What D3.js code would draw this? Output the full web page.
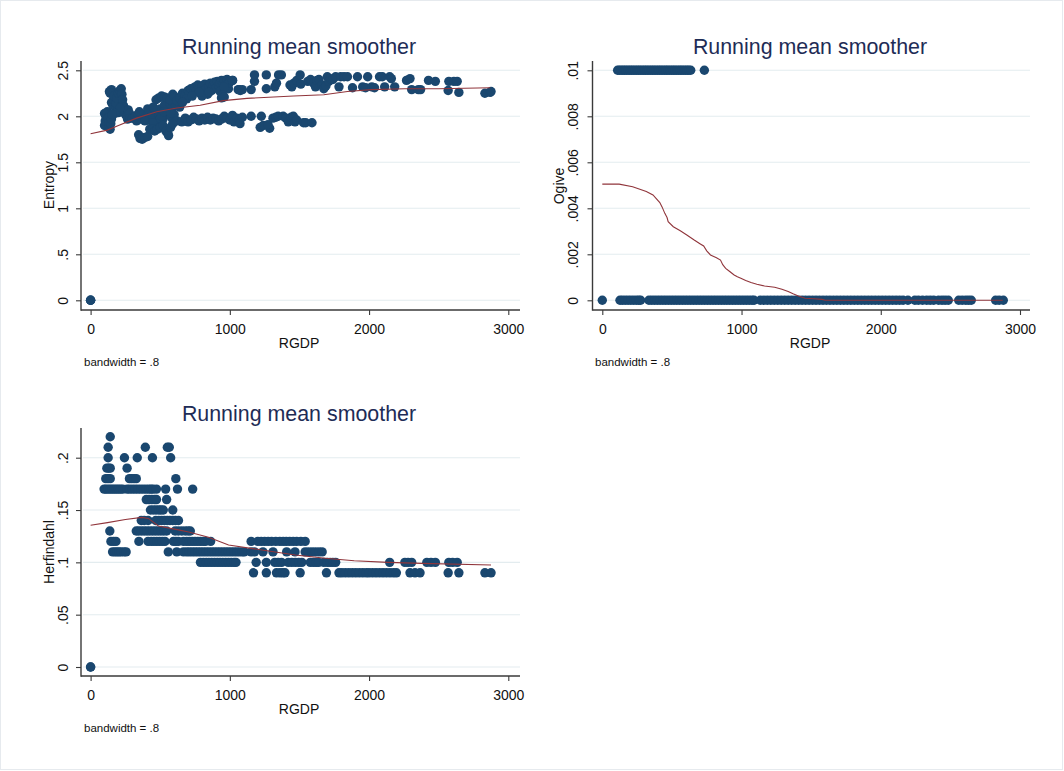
<!DOCTYPE html>
<html>
<head>
<meta charset="utf-8">
<script src="https://cdn.jsdelivr.net/npm/d3@7/dist/d3.min.js"></script>
<style>
  html, body { margin: 0; padding: 0; background: #fff; }
  svg { display: block; font-family: "Liberation Sans", Arial, sans-serif; }
</style>
</head>
<body>
<svg id="chart" width="1064" height="771"></svg>
<script>
// ---------------- DATA ----------------
const titleText = "Running mean smoother";
const xLabel = "RGDP";
const noteText = "bandwidth = .8";
const xTicks = [0, 1000, 2000, 3000];
const entropyTicks = [0, 0.5, 1, 1.5, 2, 2.5];
const ogiveTicks = [0, 0.002, 0.004, 0.006, 0.008, 0.01];
const herfTicks = [0, 0.05, 0.1, 0.15, 0.2];

// Entropy vs RGDP (x, y)
const entropyPoints = [
  [0,0],[0,0],[0,0],
  [100,1.90],[105,1.95],[110,2.00],[115,2.03],[120,2.05],[100,2.03],[125,1.98],[130,1.93],[135,1.88],[140,1.86],[145,1.92],[150,1.97],
  [135,2.27],[150,2.29],[140,2.25],[150,2.15],[160,2.12],[165,2.18],[170,2.22],[180,2.08],[185,2.14],[190,2.20],[200,2.25],[210,2.28],
  [220,2.30],[225,2.24],[230,2.18],[235,2.12],[240,2.10],[245,2.05],[250,2.02],[260,2.00],[265,1.97],[270,2.07],[280,2.03],[285,1.98],
  [200,2.04],[210,2.09],[175,2.03],[155,2.02],
  [300,1.98],[320,2.00],[340,2.02],[360,1.97],[380,2.00],[400,2.03],[420,1.96],[440,2.05],[460,1.99],[480,2.02],[500,2.08],[520,1.97],
  [540,2.03],[560,2.06],[580,1.99],[600,2.02],[620,1.95],[640,2.10],[410,2.08],[450,2.10],[470,1.95],[490,1.96],[530,2.12],[570,2.14],
  [590,2.10],[610,2.12],[350,2.05],[330,1.95],[430,1.98],[510,2.00],[390,1.95],[445,1.93],[525,2.05],[575,2.04],
  [345,1.80],[355,1.76],[370,1.75],[390,1.77],[410,1.78],[425,1.86],[445,1.86],[460,1.84],[480,1.86],[500,1.88],[520,1.90],[540,1.84],
  [555,1.81],[560,1.79],[575,1.88],[590,1.92],
  [470,2.18],[490,2.20],[510,2.22],[530,2.21],[550,2.20],[570,2.18],[590,2.24],[600,2.22],[620,2.17],[640,2.20],[660,2.25],[680,2.23],
  [700,2.28],[710,2.25],[720,2.30],[740,2.26],[750,2.32],[760,2.28],[770,2.34],[780,2.30],[790,2.25],[800,2.33],[810,2.28],[820,2.35],
  [830,2.30],[840,2.24],[850,2.32],[860,2.36],[870,2.28],[880,2.34],[890,2.37],[900,2.31],[910,2.38],[920,2.33],[930,2.36],[940,2.39],
  [950,2.35],[960,2.39],[970,2.32],[980,2.40],[990,2.37],[1000,2.38],[1020,2.39],[940,2.20],[950,2.23],[930,2.27],[990,2.30],[1060,2.29],
  [1075,2.28],[800,2.22],[850,2.26],[780,2.26],[690,2.19],[730,2.22],[660,2.15],
  [655,1.94],[680,1.98],[700,1.94],[720,1.96],[740,1.99],[760,1.97],[780,1.95],[800,1.98],[820,1.96],[840,1.99],[860,1.96],[880,1.98],
  [900,1.97],[920,1.95],[940,1.97],[960,2.00],[980,1.98],[1000,1.96],[1019,2.01],[1030,1.94],[1050,1.98],[1068,1.96],[1073,1.92],[1090,1.99],
  [1153,2.00],[1226,2.00],[1218,1.88],[1240,1.90],[1286,1.87],[1274,1.91],[1310,1.98],[1330,1.99],[1347,2.00],[1383,2.00],[1403,1.98],
  [1420,1.94],[1440,1.99],[1456,2.00],[1468,1.94],[1480,1.96],[1529,1.93],[1545,1.93],[1590,1.93],
  [1153,2.29],[1177,2.38],[1177,2.45],[1262,2.45],[1262,2.30],[1323,2.32],[1335,2.36],[1350,2.45],[1370,2.45],[1432,2.34],[1445,2.32],
  [1460,2.36],[1481,2.39],[1505,2.45],[1510,2.35],[1560,2.38],[1580,2.40],[1602,2.36],[1615,2.32],[1626,2.39],[1640,2.40],[1660,2.34],
  [1675,2.30],[1690,2.33],[1700,2.43],[1710,2.38],[1723,2.41],[1740,2.40],[1760,2.43],[1784,2.32],[1796,2.43],[1820,2.43],[1845,2.43],
  [1881,2.31],[1917,2.43],[1954,2.32],[1975,2.31],[1990,2.43],[2020,2.32],[2039,2.31],[2075,2.43],[2095,2.43],[2112,2.32],[2148,2.43],
  [2160,2.41],[2184,2.32],[2269,2.39],[2294,2.41],[2306,2.29],[2354,2.29],[2370,2.29],[2427,2.39],[2476,2.38],[2568,2.28],[2573,2.38],
  [2609,2.38],[2633,2.38],[2645,2.26],[2832,2.25],[2869,2.26],[2876,2.27],
  [995,2.36],[1019,2.39],[1068,2.29],[1090,2.29],[959,2.32],[947,2.23],[960,2.21]
];
const entropySmooth = [
  [0,1.81],[120,1.85],[200,1.90],[330,1.98],[475,2.05],[619,2.09],[787,2.12],[953,2.17],[1123,2.195],[1458,2.22],
  [1675,2.235],[1845,2.27],[2014,2.29],[2257,2.30],[2500,2.30],[2870,2.31]
];

// Ogive vs RGDP: observations at .01 and at 0
const ogiveHighX = [110,122,135,148,160,172,185,198,210,222,235,248,260,272,285,298,310,322,335,348,360,372,385,398,410,422,
  435,448,460,472,485,498,510,522,535,548,560,572,585,598,610,622,635,733];
const ogiveZeroX = [0,
  127,145,165,185,205,225,245,262,275,
  335,355,375,395,415,435,455,475,495,515,535,555,575,595,615,635,655,675,695,715,735,755,775,795,815,835,855,875,895,915,935,955,
  975,995,1015,1035,1055,1075,1090,
  1135,1160,1185,1210,1235,1260,1285,1310,1335,1360,1385,1410,1435,1460,1485,1510,1535,1560,1585,1610,1635,1660,1685,1710,1735,
  1760,1785,1810,1835,1860,1885,1910,1935,1960,1985,2010,2035,2060,2085,2110,2135,2160,2195,
  2245,2270,2300,2330,2355,2380,2415,2440,2462,2485,2560,2585,2610,2630,2650,2825,2850,2880];
const ogiveHighY = 0.01;
const ogiveZeroY = 0;
const ogiveSmooth = [
  [0,0.00505],[121,0.00505],[218,0.00494],[316,0.00473],[364,0.00458],[413,0.00425],[430,0.00405],[449,0.00378],[465,0.00360],
  [473,0.00342],[510,0.00320],[560,0.00302],[607,0.00284],[660,0.00262],[704,0.00245],[728,0.00236],[750,0.00215],[777,0.00197],
  [820,0.00185],[849,0.00175],[865,0.00155],[886,0.00139],[915,0.00125],[947,0.00110],[970,0.00102],[995,0.00096],[1030,0.00086],
  [1068,0.00077],[1110,0.00070],[1165,0.00062],[1238,0.00057],[1290,0.00048],[1335,0.00038],[1370,0.00028],[1408,0.00019],
  [1456,0.00009],[1520,0.00007],[1578,0.00004],[1602,0],[2876,0]
];

// Herfindahl vs RGDP: rows [y, x values]
const herfRows = [
  [0.22, [141]],
  [0.21, [126,393,551,565]],
  [0.20, [126,243,335,444,575]],
  [0.19, [117,130,141,262]],
  [0.18, [109,125,141,279,295,312,328,612]],
  [0.17, [97,110,125,140,155,170,185,200,215,231,262,280,300,320,340,360,380,400,420,435,449,473,539,624,733]],
  [0.16, [400,420,440,460,473,546]],
  [0.15, [430,450,470,490,505,522,590]],
  [0.14, [364,385,413,468,490,510,530,550,570,590,610,631]],
  [0.13, [138,328,345,365,385,405,425,445,465,485,505,525,546,607,630,655,680,700,716]],
  [0.12, [146,165,182,347,413,435,455,475,495,515,534,595,613,631,667,690,710,730,750,770,790,810,825,862,1153,
          1201,1225,1250,1275,1300,1330,1359,1383,1405,1430,1455,1480,1510,1541]],
  [0.11, [158,175,190,205,220,240,255,558,619,667,690,710,730,750,770,790,810,830,850,870,890,910,930,950,970,990,1010,
          1030,1050,1070,1090,1104,1153,1177,1238,1310,1408,1468,1541,1565,1590,1615,1640,1663]],
  [0.10, [789,810,830,850,870,890,910,930,950,970,990,1010,1030,1044,1189,1262,1323,1347,1371,1420,1445,1470,1495,1517,
          1578,1600,1620,1638,1675,1700,1720,1740,1760,2148,2257,2280,2306,2415,2445,2476,2573,2600,2633]],
  [0.09, [1170,1262,1335,1360,1380,1396,1505,1694,1784,1805,1830,1855,1880,1905,1930,1955,1980,2000,2025,2050,2075,2100,
          2125,2150,2175,2196,2294,2330,2366,2568,2645,2832,2876]],
  [0.00, [0,0]]
];
const herfSmooth = [
  [0,0.1355],[121,0.138],[250,0.141],[368,0.143],[415,0.142],[487,0.1347],[631,0.131],[704,0.129],[847,0.124],[991,0.1166],
  [1231,0.1118],[1470,0.107],[1686,0.1039],[1893,0.1015],[2136,0.100],[2378,0.099],[2876,0.0975]
];

// ---------------- DRAW ----------------
const svg = d3.select("#chart");
const FONT = "'Liberation Sans', Arial, sans-serif";
const DOT = "#1a476f", LINE = "#90353b", GRID = "#e3ecef", AXIS = "#3a3a3a", TITLE = "#1e2c56";

svg.append("rect").attr("x",0.5).attr("y",0.5).attr("width",1062).attr("height",769)
  .attr("fill","#fff").attr("stroke","#e6eaee").attr("stroke-width",1);

function fmt(v) {
  let s = String(+v.toFixed(6));
  if (s.startsWith("0.")) s = s.slice(1);
  return s;
}

function panel(cfg) {
  const g = svg.append("g");
  const x = d3.scaleLinear().domain([0,3000]).range([cfg.x0, cfg.x3000]);
  const y = d3.scaleLinear().domain(cfg.yDomain).range(cfg.yRange);

  // gridlines
  g.selectAll("line.grid").data(cfg.yTicks).join("line")
    .attr("x1", cfg.axisX + 2).attr("x2", cfg.axisRight)
    .attr("y1", d => y(d)).attr("y2", d => y(d))
    .attr("stroke", GRID).attr("stroke-width", 1.1);

  // y axis
  const ya = g.append("g").attr("transform", `translate(${cfg.axisX},0)`)
    .call(d3.axisLeft(y).tickValues(cfg.yTicks).tickSize(5).tickFormat(fmt));
  ya.select(".domain").remove();
  ya.selectAll(".tick line").attr("stroke", AXIS).attr("stroke-width", 1.1);
  ya.selectAll(".tick text")
    .attr("x", null).attr("dy", null)
    .attr("transform", `translate(${cfg.yLabelX - cfg.axisX},0) rotate(-90)`)
    .attr("text-anchor", "middle")
    .attr("font-family", FONT).attr("font-size", 14).attr("fill", "#111");

  // x axis
  const xa = g.append("g").attr("transform", `translate(0,${cfg.axisY})`)
    .call(d3.axisBottom(x).tickValues(xTicks).tickSize(5).tickFormat(d3.format("d")));
  xa.select(".domain").remove();
  xa.selectAll(".tick line").attr("stroke", AXIS).attr("stroke-width", 1.1);
  xa.selectAll(".tick text")
    .attr("y", cfg.xTickBase - cfg.axisY).attr("dy", null)
    .attr("font-family", FONT).attr("font-size", 14).attr("fill", "#111");

  // axis lines
  g.append("line").attr("x1", cfg.axisX).attr("x2", cfg.axisX)
    .attr("y1", cfg.axisTop).attr("y2", cfg.axisY + 0.7)
    .attr("stroke", AXIS).attr("stroke-width", 1.4);
  g.append("line").attr("x1", cfg.axisX).attr("x2", cfg.axisRight)
    .attr("y1", cfg.axisY).attr("y2", cfg.axisY)
    .attr("stroke", AXIS).attr("stroke-width", 1.4);

  // points
  g.append("g").selectAll("circle").data(cfg.points).join("circle")
    .attr("cx", d => x(d[0])).attr("cy", d => y(d[1])).attr("r", 4.7)
    .attr("fill", DOT);

  // smoother
  g.append("path").datum(cfg.smooth)
    .attr("d", d3.line().x(d => x(d[0])).y(d => y(d[1])))
    .attr("fill", "none").attr("stroke", LINE).attr("stroke-width", 1.1);

  // texts
  g.append("text").attr("x", cfg.titleX).attr("y", cfg.titleBase)
    .attr("text-anchor", "middle").attr("font-family", FONT).attr("font-size", 21.4)
    .attr("fill", TITLE).text(titleText);
  g.append("text").attr("x", cfg.titleX).attr("y", cfg.xTitleBase)
    .attr("text-anchor", "middle").attr("font-family", FONT).attr("font-size", 14)
    .attr("fill", "#111").text(xLabel);
  g.append("text")
    .attr("transform", `translate(${cfg.yTitleX},${cfg.yTitleY}) rotate(-90)`)
    .attr("text-anchor", "middle").attr("font-family", FONT).attr("font-size", 14)
    .attr("fill", "#111").text(cfg.yTitle);
  g.append("text").attr("x", cfg.noteX).attr("y", cfg.noteBase)
    .attr("font-family", FONT).attr("font-size", 11.5).attr("fill", "#111").text(noteText);
}

// Entropy panel
panel({
  x0: 90.6, x3000: 508.3, axisX: 81, axisRight: 520, axisTop: 61, axisY: 310,
  yDomain: [0, 2.5], yRange: [300.3, 70.3], yTicks: entropyTicks, yLabelX: 68,
  xTickBase: 333.5, xTitleBase: 347.5, titleX: 299, titleBase: 54,
  yTitle: "Entropy", yTitleX: 53.5, yTitleY: 185, noteX: 84, noteBase: 366,
  points: entropyPoints, smooth: entropySmooth
});

// Ogive panel
panel({
  x0: 602.3, x3000: 1020, axisX: 592.5, axisRight: 1030, axisTop: 61, axisY: 310,
  yDomain: [0, 0.01], yRange: [300.3, 70.3], yTicks: ogiveTicks, yLabelX: 578,
  xTickBase: 333.5, xTitleBase: 347.5, titleX: 810, titleBase: 54,
  yTitle: "Ogive", yTitleX: 563.5, yTitleY: 186, noteX: 595, noteBase: 366,
  points: ogiveHighX.map(v => [v, ogiveHighY]).concat(ogiveZeroX.map(v => [v, ogiveZeroY])),
  smooth: ogiveSmooth
});

// Herfindahl panel
panel({
  x0: 90.6, x3000: 508.3, axisX: 81, axisRight: 520, axisTop: 428, axisY: 676,
  yDomain: [0, 0.2], yRange: [667, 457.7], yTicks: herfTicks, yLabelX: 68,
  xTickBase: 700, xTitleBase: 714, titleX: 299, titleBase: 420.5,
  yTitle: "Herfindahl", yTitleX: 53.5, yTitleY: 552, noteX: 84, noteBase: 732,
  points: herfRows.flatMap(r => r[1].map(v => [v, r[0]])),
  smooth: herfSmooth
});
</script>
</body>
</html>
